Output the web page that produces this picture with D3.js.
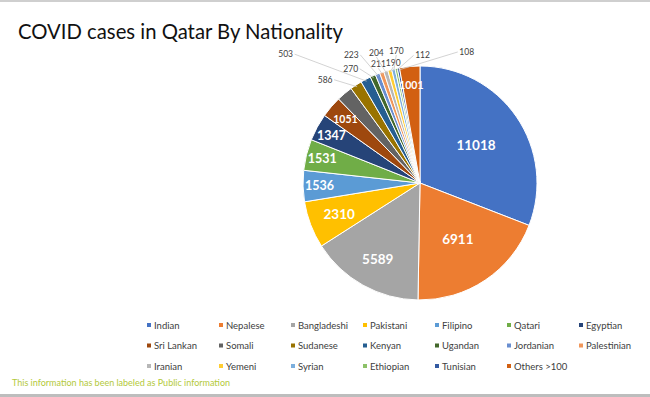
<!DOCTYPE html>
<html>
<head>
<meta charset="utf-8">
<script src="https://cdn.jsdelivr.net/npm/d3@7"></script>
<style>
  html, body { margin: 0; padding: 0; background: #fff; }
  svg { display: block; font-family: Lato, 'Open Sans', sans-serif; }
</style>
</head>
<body>
<div id="chart"></div>
<script>
// Data
const nationalities = ['Indian', 'Nepalese', 'Bangladeshi', 'Pakistani', 'Filipino', 'Qatari', 'Egyptian',
    'Sri Lankan', 'Somali', 'Sudanese', 'Kenyan', 'Ugandan', 'Jordanian', 'Palestinian',
    'Iranian', 'Yemeni', 'Syrian', 'Ethiopian', 'Tunisian', 'Others >100'];
// Somali has no label in the picture, its size is estimated from the slice angle
const cases = [11018, 6911, 5589, 2310, 1536, 1531, 1347, 1051, 790, 586, 503, 270, 223, 211, 204, 190, 170, 112, 108, 1001];
const unlabelled = ['Somali'];

const colors = ['#4472C4', '#ED7D31', '#A5A5A5', '#FFC000', '#5B9BD5', '#70AD47', '#264478', '#9E480E',
    '#636363', '#997300', '#255E91', '#43682B', '#698ED0', '#F1975A', '#B7B7B7', '#FFCD33',
    '#7CAFDD', '#8CC168', '#335AA1', '#D26012'];

// Layout
const width = 650, height = 397;
const cx = 420, cy = 183, radius = 117;
// label shift from the slice's outer edge, for the small slices labelled outside
const outerOffsets = {
    'Sudanese': [-32, -7], 'Kenyan': [-81, -27], 'Ugandan': [-23, -9], 'Jordanian': [-27, -21],
    'Palestinian': [-4, -10], 'Iranian': [-10, -20], 'Yemeni': [3, -9], 'Syrian': [2.5, -20],
    'Ethiopian': [26, -15], 'Tunisian': [68, -18]
};

const svg = d3.select('#chart').append('svg')
    .attr('width', width)
    .attr('height', height);

// frame lines
svg.append('rect').attr('x', 0).attr('y', 0).attr('width', width).attr('height', 2).attr('fill', '#cfcfcf');
svg.append('rect').attr('x', 0).attr('y', 394).attr('width', width).attr('height', 3).attr('fill', '#bdbdbd');

// title
svg.append('text')
    .attr('x', 18)
    .attr('y', 39)
    .attr('font-size', 22)
    .attr('fill', '#111')
    .attr('textLength', 325)
    .attr('lengthAdjust', 'spacingAndGlyphs')
    .text('COVID cases in Qatar By Nationality');

const data = nationalities.map((name, i) => ({ name, value: cases[i], color: colors[i] }));

const pie = d3.pie().sort(null).value(d => d.value);
const arcs = pie(data);
const arc = d3.arc().innerRadius(0).outerRadius(radius);

const g = svg.append('g').attr('transform', `translate(${cx},${cy})`);

g.selectAll('path')
    .data(arcs)
    .join('path')
    .attr('d', arc)
    .attr('fill', d => d.data.color)
    .attr('stroke', '#fff')
    .attr('stroke-width', 1);

// inside labels
const inside = arcs.filter(d => !outerOffsets[d.data.name] && !unlabelled.includes(d.data.name));
g.selectAll('text.inside')
    .data(inside)
    .join('text')
    .attr('class', 'inside')
    .each(function (d) {
        const span = d.endAngle - d.startAngle;
        const k = span > 1 ? 0.58 : (span > 0.35 ? 0.74 : (span > 0.2 ? 0.86 : 0.84));
        const a = (d.startAngle + d.endAngle) / 2;
        d3.select(this)
            .attr('x', Math.sin(a) * radius * k)
            .attr('y', -Math.cos(a) * radius * k)
            .attr('font-size', span > 0.35 ? 13.5 : (span > 0.2 ? 12.5 : 10.5));
    })
    .attr('text-anchor', 'middle')
    .attr('dominant-baseline', 'central')
    .attr('font-weight', 'bold')
    .attr('fill', '#fff')
    .text(d => d.data.value);

// outside labels with leader lines
const outside = arcs.filter(d => outerOffsets[d.data.name]);
outside.forEach(d => {
    const a = (d.startAngle + d.endAngle) / 2;
    const px = Math.sin(a) * (radius - 2);
    const py = -Math.cos(a) * (radius - 2);
    const [dx, dy] = outerOffsets[d.data.name];
    const lx = px + dx, ly = py + dy;
    const halfW = 7;
    let sx, sy;
    if (dx < -12) { sx = lx + halfW + 2; sy = ly; }
    else if (dx > 12) { sx = lx - halfW - 2; sy = ly; }
    else { sx = lx; sy = ly + 4; }
    g.append('line')
        .attr('x1', sx).attr('y1', sy)
        .attr('x2', px).attr('y2', py)
        .attr('stroke', '#c8c8c8')
        .attr('stroke-width', 0.8);
    g.append('text')
        .attr('x', lx)
        .attr('y', ly)
        .attr('text-anchor', 'middle')
        .attr('dominant-baseline', 'central')
        .attr('font-size', 8.5)
        .attr('fill', '#404040')
        .text(d.data.value);
});

// legend
const colW = 72, rowH = 20.5, legendX = 149, legendY = 325, perRow = 7;
const legend = svg.append('g').attr('class', 'legend');
const items = legend.selectAll('g')
    .data(data)
    .join('g')
    .attr('transform', (d, i) => `translate(${legendX + (i % perRow) * colW},${legendY + Math.floor(i / perRow) * rowH})`);
items.append('rect')
    .attr('x', -2).attr('y', -2)
    .attr('width', 4).attr('height', 4)
    .attr('fill', d => d.color);
items.append('text')
    .attr('x', 5)
    .attr('y', 0)
    .attr('dominant-baseline', 'central')
    .attr('font-size', 9.5)
    .attr('fill', '#404040')
    .text(d => d.name);

// footer
svg.append('text')
    .attr('x', 12)
    .attr('y', 386)
    .attr('font-size', 9)
    .attr('fill', '#b3c93a')
    .text('This information has been labeled as Public information');
</script>
</body>
</html>
